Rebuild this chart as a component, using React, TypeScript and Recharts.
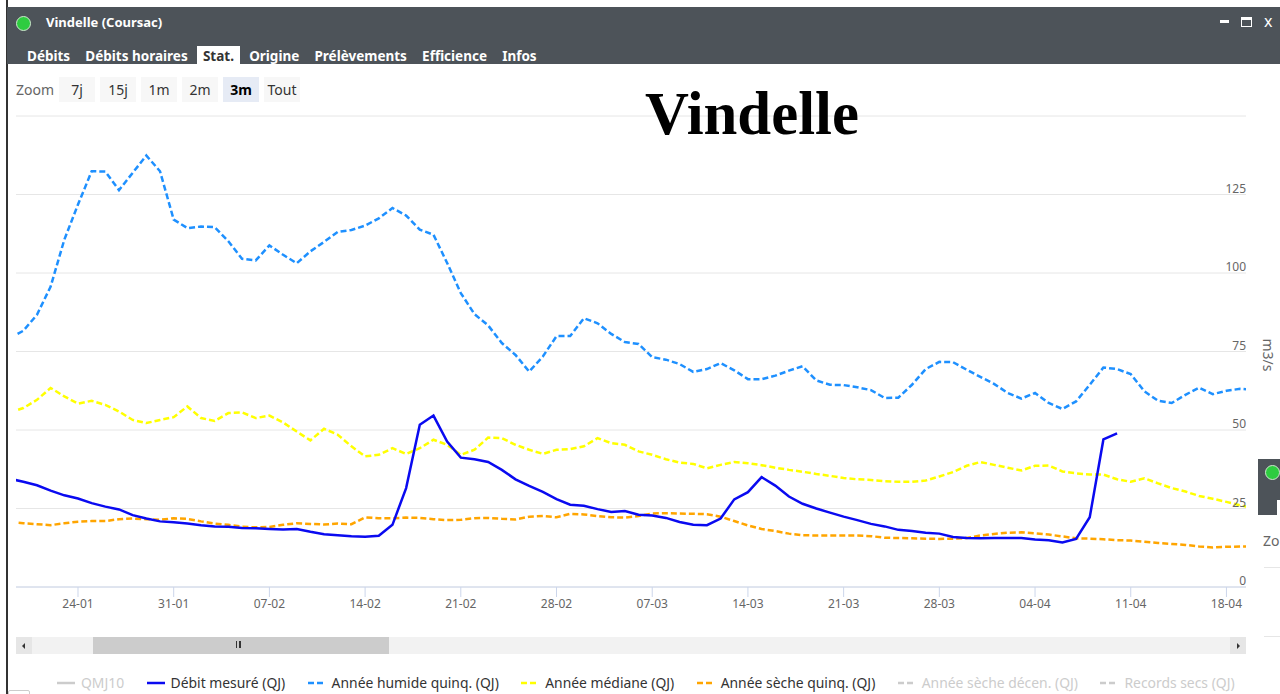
import { LineChart, Line, XAxis, YAxis, CartesianGrid } from "recharts";

const days = [
  "19-01", "20-01", "21-01", "22-01", "23-01", "24-01", "25-01", "26-01", "27-01", "28-01", "29-01", "30-01", "31-01",
  "01-02", "02-02", "03-02", "04-02", "05-02", "06-02", "07-02", "08-02", "09-02", "10-02", "11-02", "12-02", "13-02", "14-02",
  "15-02", "16-02", "17-02", "18-02", "19-02", "20-02", "21-02", "22-02", "23-02", "24-02", "25-02", "26-02", "27-02", "28-02",
  "01-03", "02-03", "03-03", "04-03", "05-03", "06-03", "07-03", "08-03", "09-03", "10-03", "11-03", "12-03", "13-03", "14-03",
  "15-03", "16-03", "17-03", "18-03", "19-03", "20-03", "21-03", "22-03", "23-03", "24-03", "25-03", "26-03", "27-03", "28-03",
  "29-03", "30-03", "31-03", "01-04", "02-04", "03-04", "04-04", "05-04", "06-04", "07-04", "08-04", "09-04", "10-04", "11-04",
  "12-04", "13-04", "14-04", "15-04", "16-04", "17-04", "18-04", "19-04", "20-04",
];

const tickLabels = ["24-01", "31-01", "07-02", "14-02", "21-02", "28-02", "07-03", "14-03", "21-03", "28-03", "04-04", "11-04", "18-04"];
const yTicks = [0, 25, 50, 75, 100, 125, 150];

const debitMesure = [
  34.5, 33.5, 32.4, 30.7, 29.2, 28.2, 26.7, 25.6, 24.7, 22.9, 21.8, 20.9, 20.6,
  20.2, 19.7, 19.3, 19.2, 18.8, 18.7, 18.5, 18.3, 18.5, 17.6, 16.8, 16.5, 16.2, 16,
  16.3, 19.8, 31.5, 51.7, 54.6, 46.3, 41.2, 40.7, 39.8, 37.3, 34.3, 32.2, 30.3, 28,
  26.2, 25.9, 24.8, 23.9, 24.2, 23, 22.8, 22, 20.7, 19.8, 19.7, 21.8, 27.9, 30.2,
  35, 32.3, 28.8, 26.5, 25, 23.7, 22.4, 21.3, 20.1, 19.3, 18.2, 17.8, 17.3, 17,
  15.9, 15.6, 15.5, 15.6, 15.6, 15.6, 15.1, 14.9, 14.2, 15.3, 22.2, 47, 48.9,
];

const anneeHumide = [
  79.3, 81.6, 86.7, 95.7, 110.6, 121.8, 132.4, 132.3, 126.4, 131.9, 137.4, 132.4, 117,
  114.3, 114.8, 114.6, 110.1, 104.5, 104, 108.8, 105.8, 103.1, 106.9, 109.9, 113.1, 113.7, 115.1,
  117.4, 120.7, 118.3, 113.8, 112.2, 103.2, 93.6, 86.9, 83.3, 77.7, 73.9, 68.6, 73.4, 79.9,
  79.9, 85.6, 84, 80.6, 78, 77.4, 73.2, 72.4, 71, 68.5, 69.4, 71.3, 69, 66.2,
  66.2, 67.3, 68.9, 70.3, 65.8, 64.4, 64.3, 63.6, 62.7, 60.2, 60.3, 64.4, 69.4, 71.7,
  71.6, 69.2, 66.9, 64.7, 61.8, 60, 61.8, 58.6, 56.7, 59.1, 64.4, 69.9, 69.4, 67.8,
  62.3, 59.3, 58.6, 61.2, 63.5, 61.4, 62.5, 63.1, 62.8,
];

const anneeMediane = [
  55.5, 57, 59.6, 63.4, 60.7, 58.4, 59.3, 58, 55.9, 53.2, 52.2, 53.2, 54.1,
  57.5, 53.8, 52.9, 55.4, 55.6, 53.8, 54.6, 52.4, 49.5, 46.7, 50.4, 48.5, 44.8, 41.6,
  42.1, 44.2, 42.4, 44.2, 46.9, 45.3, 42.1, 43.7, 47.6, 47.4, 45.3, 43.7, 42.4, 43.7,
  43.9, 44.8, 47.4, 45.8, 45.3, 43.2, 42.1, 40.7, 39.6, 39.2, 37.8, 38.9, 39.8, 39.4,
  38.8, 38, 37.3, 36.7, 36, 35.4, 34.7, 34.3, 34.1, 33.7, 33.5, 33.5, 33.9, 35.2,
  36.6, 38.6, 39.8, 38.9, 38, 37.1, 38.6, 38.7, 36.8, 36.2, 35.8, 35.8, 34.3, 33.5,
  34.6, 33, 31.5, 30.4, 29, 28.1, 27.1, 26, 25.1,
];

const anneeSeche = [
  20.7, 20.3, 20, 19.7, 20.3, 20.8, 21, 21, 21.6, 21.8, 21.6, 21.4, 21.9,
  21.7, 20.9, 20.2, 19.8, 19.2, 19, 19.1, 19.8, 20.3, 20.1, 19.9, 20.2, 20, 22.2,
  21.9, 21.9, 22.1, 22, 21.6, 21.3, 21.4, 21.9, 22, 21.7, 21.5, 22.4, 22.6, 22.2,
  23.3, 23.1, 22.6, 22.2, 22.1, 22.6, 23.4, 23.5, 23.4, 23.3, 23.2, 22.4, 21, 19.6,
  18.5, 17.8, 17, 16.5, 16.4, 16.4, 16.4, 16.4, 16.2, 15.7, 15.6, 15.5, 15.4, 15.3,
  15.4, 15.6, 16.4, 16.9, 17.3, 17.4, 17.1, 16.7, 16.1, 15.5, 15.4, 15.2, 14.9, 14.8,
  14.4, 14, 13.7, 13.4, 12.9, 12.6, 12.8, 12.9, 12.9,
];

const tabs = ["Débits", "Débits horaires", "Stat.", "Origine", "Prélèvements", "Efficience", "Infos"];
const zoomButtons = ["7j", "15j", "1m", "2m", "3m", "Tout"];
const legendItems = [
  { name: "QMJ10", color: "#cccccc", dashed: false, off: true },
  { name: "Débit mesuré (QJ)", color: "#0a0af0", dashed: false, off: false },
  { name: "Année humide quinq. (QJ)", color: "#1e90ff", dashed: true, off: false },
  { name: "Année médiane (QJ)", color: "#ffff00", dashed: true, off: false },
  { name: "Année sèche quinq. (QJ)", color: "#ffa500", dashed: true, off: false },
  { name: "Année sèche décen. (QJ)", color: "#cccccc", dashed: true, off: true },
  { name: "Records secs (QJ)", color: "#cccccc", dashed: true, off: true },
];

const chartData = days.map((day, i) => ({
  i,
  day,
  debit: i < debitMesure.length ? debitMesure[i] : null,
  humide: anneeHumide[i],
  mediane: anneeMediane[i],
  seche: anneeSeche[i],
}));

const FONT = "'Noto Sans', sans-serif";

// y axis labels sit above their grid line, flush right, and the top one has no label
function YTick({ x, y, payload }: any) {
  if (payload.value === 150) return null;
  return (
    <text x={x - 8} y={y - 2} textAnchor="end" fontSize={12} fill="#666666" fontFamily={FONT}>
      {payload.value}
    </text>
  );
}

export default function App() {
  return (
    <div style={{ position: "fixed", left: 0, top: 0, width: 1280, height: 694, overflow: "hidden", background: "#fff", fontFamily: FONT }}>
      <div style={{ position: "absolute", left: 6, top: 0, width: 2, height: 694, background: "#333" }} />

      {/* window header */}
      <div style={{ position: "absolute", left: 7, top: 7, width: 1273, height: 57, background: "#4d5359" }} />
      <div style={{ position: "absolute", left: 16, top: 16, width: 13, height: 13, borderRadius: 8, background: "#2ecc40", border: "1.5px solid #cfe8cf" }} />
      <div style={{ position: "absolute", left: 46, top: 13, color: "#fff", fontWeight: 700, fontSize: 13, lineHeight: "18px" }}>Vindelle (Coursac)</div>
      <div style={{ position: "absolute", left: 1220, top: 20, width: 9, height: 3, background: "#fff" }} />
      <div style={{ position: "absolute", left: 1241, top: 17, width: 9, height: 6, border: "1px solid #fff", borderTopWidth: 3 }} />
      <div style={{ position: "absolute", left: 1264, top: 11, color: "#fff", fontSize: 16, lineHeight: "20px" }}>x</div>
      <div style={{ position: "absolute", left: 21, top: 46, height: 18, display: "flex", gap: 0 }}>
        {tabs.map((t) => (
          <div
            key={t}
            style={{
              padding: "0 6px",
              marginRight: 3.2,
              color: t === "Stat." ? "#333" : "#fff",
              background: t === "Stat." ? "#fff" : "transparent",
              fontWeight: 700,
              fontSize: 13.5,
              lineHeight: "20px",
            }}
          >
            {t}
          </div>
        ))}
      </div>

      {/* zoom buttons */}
      <div style={{ position: "absolute", left: 16, top: 80, fontSize: 14, lineHeight: "19px", color: "#666" }}>Zoom</div>
      <div style={{ position: "absolute", left: 59, top: 77, display: "flex", gap: 5 }}>
        {zoomButtons.map((b) => (
          <div
            key={b}
            style={{
              width: 36,
              height: 25,
              textAlign: "center",
              lineHeight: "25px",
              fontSize: 14,
              background: b === "3m" ? "#e6ebf5" : "#f7f7f7",
              color: b === "3m" ? "#000" : "#333",
              fontWeight: b === "3m" ? 700 : 400,
            }}
          >
            {b}
          </div>
        ))}
      </div>

      <div style={{ position: "absolute", left: 0, top: 0 }}>
        <LineChart width={1280} height={694} data={chartData} margin={{ top: 116, right: 0, bottom: 77, left: 16 }}>
          <CartesianGrid vertical={false} stroke="#e6e6e6" strokeWidth={1} />
          <XAxis
            dataKey="i"
            type="number"
            domain={[0.466, 90.43]}
            allowDataOverflow
            ticks={tickLabels.map((l) => days.indexOf(l))}
            tickFormatter={(i: number) => days[i]}
            interval={0}
            height={30}
            tickSize={10}
            tick={{ fontSize: 12, fill: "#666666", fontFamily: FONT }}
            stroke="#ccd6eb"
          />
          <YAxis
            orientation="right"
            type="number"
            domain={[0, 150]}
            ticks={yTicks}
            interval={0}
            width={34}
            axisLine={false}
            tickLine={false}
            tick={<YTick />}
            label={{ value: "m3/s", angle: 90, position: "insideRight", offset: 12, dy: 20, fontSize: 14, fill: "#666666", fontFamily: FONT }}
          />
          <Line dataKey="humide" stroke="#1e90ff" strokeWidth={2.5} strokeDasharray="6 3" dot={false} isAnimationActive={false} />
          <Line dataKey="mediane" stroke="#ffff00" strokeWidth={2.5} strokeDasharray="6 3" dot={false} isAnimationActive={false} />
          <Line dataKey="seche" stroke="#ffa500" strokeWidth={2.5} strokeDasharray="6 3" dot={false} isAnimationActive={false} />
          <Line dataKey="debit" stroke="#0a0af0" strokeWidth={2.5} dot={false} isAnimationActive={false} connectNulls={false} />
        </LineChart>
      </div>

      <div style={{ position: "absolute", left: 645, top: 79, fontFamily: "'Liberation Serif', serif", fontWeight: 700, fontSize: 60.8, lineHeight: "70px", color: "#000" }}>
        Vindelle
      </div>

      {/* scrollbar */}
      <div style={{ position: "absolute", left: 16, top: 637, width: 1230, height: 17, background: "#f2f2f2" }} />
      <div style={{ position: "absolute", left: 16, top: 637, width: 16, height: 17, background: "#e6e6e6" }} />
      <div style={{ position: "absolute", left: 1230, top: 637, width: 16, height: 17, background: "#e6e6e6" }} />
      <div style={{ position: "absolute", left: 93, top: 637, width: 296, height: 17, background: "#cccccc" }} />
      <div style={{ position: "absolute", left: 236, top: 641, width: 2, height: 7, borderLeft: "1px solid #333", borderRight: "1px solid #333" }} />
      <div style={{ position: "absolute", left: 240, top: 641, width: 1, height: 7, background: "#333" }} />
      <div style={{ position: "absolute", left: 22, top: 643, borderTop: "3px solid transparent", borderBottom: "3px solid transparent", borderRight: "3px solid #333" }} />
      <div style={{ position: "absolute", left: 1237, top: 643, borderTop: "3px solid transparent", borderBottom: "3px solid transparent", borderLeft: "3px solid #333" }} />

      {/* legend */}
      <div style={{ position: "absolute", left: 57, top: 673, display: "flex", gap: 22.4, whiteSpace: "nowrap" }}>
        {legendItems.map((item) => (
          <div key={item.name} style={{ display: "flex", alignItems: "center", gap: 6, fontSize: 13.9, lineHeight: "19px", color: item.off ? "#cccccc" : "#333333" }}>
            <svg width={18} height={4}>
              <line x1={0} y1={2} x2={18} y2={2} stroke={item.color} strokeWidth={2.5} strokeDasharray={item.dashed ? "6 3" : undefined} />
            </svg>
            {item.name}
          </div>
        ))}
      </div>

      {/* next window peeking in at the right edge */}
      <div style={{ position: "absolute", left: 1258, top: 459, width: 22, height: 56, background: "#4d5359" }} />
      <div style={{ position: "absolute", left: 1265, top: 465, width: 13, height: 13, borderRadius: 8, background: "#2ecc40", border: "1.5px solid #cfe8cf" }} />
      <div style={{ position: "absolute", left: 1277, top: 500, width: 3, height: 15, background: "#fff" }} />
      <div style={{ position: "absolute", left: 1263, top: 531, fontSize: 14, lineHeight: "19px", color: "#666" }}>Zo</div>
      <div style={{ position: "absolute", left: 1264, top: 567, width: 16, height: 1, background: "#e6e6e6" }} />
      <div style={{ position: "absolute", left: 1264, top: 636, width: 16, height: 1, background: "#e6e6e6" }} />
      <div style={{ position: "absolute", left: 8, top: 690, width: 20, height: 6, border: "1px solid #ccc", borderRadius: 2 }} />
    </div>
  );
}
